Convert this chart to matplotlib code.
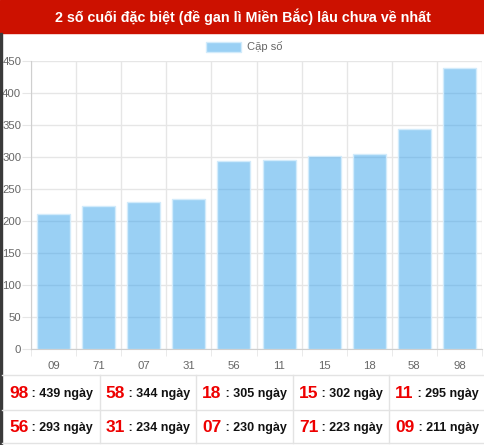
import matplotlib.pyplot as plt
from matplotlib.patches import Rectangle

plt.rcParams['font.family'] = ['Liberation Sans', 'DejaVu Sans']

labels = ['09', '71', '07', '31', '56', '11', '15', '18', '58', '98']
values = [211, 223, 230, 234, 293, 295, 302, 305, 344, 439]

# table below the chart, longest first
tab_nums = ['98', '58', '18', '15', '11', '56', '31', '07', '71', '09']
tab_days = [439, 344, 305, 302, 295, 293, 234, 230, 223, 211]

title = "2 số cuối đặc biệt (đề gan lì Miền Bắc) lâu chưa về nhất"
legend_label = "Cặp số"

W, H = 485, 445
fig = plt.figure(figsize=(W / 100, H / 100), dpi=100)
fig.patch.set_facecolor('white')

def fx(px):
    return px / W

def fy(py):
    return 1 - py / H

# red header
fig.patches.append(Rectangle((0, fy(33)), 1, 33 / H, transform=fig.transFigure,
                             color='#cc1100', zorder=0))
fig.text(0.5, fy(16.5), title, color='white', fontsize=10.3, fontweight='bold',
         ha='center', va='center')

# thin dark strip at left edge
fig.patches.append(Rectangle((0, 0), fx(2), fy(33), transform=fig.transFigure,
                             color='#3a3a3a', zorder=0))

ax = fig.add_axes([fx(31), fy(349), fx(482) - fx(31), fy(61) - fy(349)])
x = list(range(len(labels)))
ax.bar(x, values, width=0.73, color=(54 / 255, 162 / 255, 235 / 255, 0.5),
       edgecolor='#d2ebfb', linewidth=1, zorder=3)

ax.set_xlim(-0.5, len(labels) - 0.5)
ax.set_ylim(0, 450)
ax.set_yticks(range(0, 451, 50))
ax.set_xticks(x)
ax.set_xticklabels(labels)
ax.set_xticks([i - 0.5 for i in range(len(labels) + 1)], minor=True)

ax.set_axisbelow(True)
ax.grid(axis='y', color='#e6e6e6', linewidth=1, zorder=1)
ax.grid(axis='x', which='minor', color='#e6e6e6', linewidth=1, zorder=1)
ax.grid(axis='x', which='major', visible=False)

ax.tick_params(axis='y', length=6.5, color='#e6e6e6', labelsize=8.2, labelcolor='#666666', pad=0.5)
ax.tick_params(axis='x', which='major', length=0, labelsize=8.2, labelcolor='#666666', pad=8.5)
ax.tick_params(axis='x', which='minor', length=5, color='#e6e6e6')

for s in ['top', 'right']:
    ax.spines[s].set_visible(False)
ax.spines['left'].set_color('#cfcfcf')
ax.spines['bottom'].set_color('#cfcfcf')

# legend
fig.patches.append(Rectangle((fx(206), fy(52)), fx(35), 10 / H, transform=fig.transFigure,
                             facecolor=(54 / 255, 162 / 255, 235 / 255, 0.5),
                             edgecolor='#d2ebfb', linewidth=1))
fig.text(fx(247), fy(47), legend_label, color='#666666', fontsize=8, va='center', ha='left')

# table
col_edges = [2, 100, 196, 293, 389, 485]
row_edges = [375, 410, 443]
line_c = '#e3e3e3'
for yy in row_edges:
    fig.add_artist(plt.Line2D([fx(2), 1], [fy(yy), fy(yy)], color=line_c, linewidth=1))
for xx in col_edges[1:-1]:
    fig.add_artist(plt.Line2D([fx(xx), fx(xx)], [fy(375), fy(443)], color=line_c, linewidth=1))

for i in range(len(tab_nums)):
    r, c = divmod(i, 5)
    cx = (col_edges[c] + col_edges[c + 1]) / 2
    cy = (row_edges[r] + row_edges[r + 1]) / 2
    t1 = fig.text(0, 0, tab_nums[i], color='#ee0000', fontsize=12.5, fontweight='bold')
    t2 = fig.text(0, 0, ' : %d ngày' % tab_days[i], color='#111111', fontsize=9, fontweight='bold')
    fig.canvas.draw()
    r1 = fig.canvas.get_renderer()
    w1 = t1.get_window_extent(r1).width
    w2 = t2.get_window_extent(r1).width
    left = cx - (w1 + w2) / 2
    t1.set_position((fx(left), fy(cy + 5)))
    t2.set_position((fx(left + w1), fy(cy + 5)))

fig.savefig('out.png', dpi=100)
